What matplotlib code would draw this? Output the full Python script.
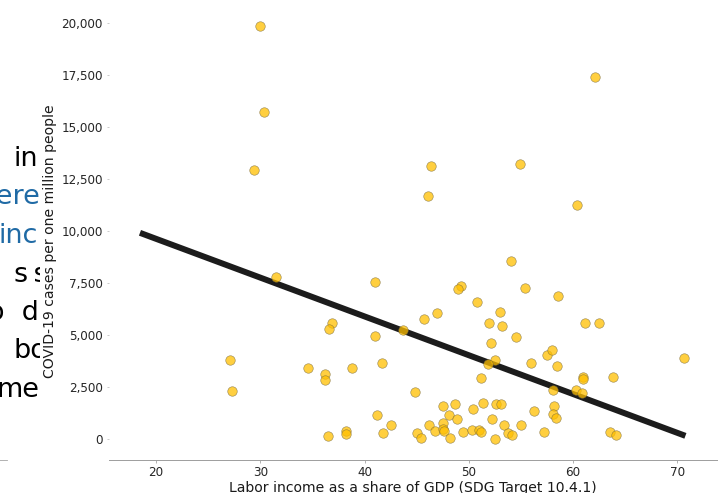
import matplotlib
matplotlib.use("Agg")
import matplotlib.pyplot as plt
from matplotlib.ticker import FuncFormatter
from matplotlib.patches import Rectangle

# ---------------- data ----------------
labor_share = [
    30.0, 30.32, 29.42, 46.33, 46.13, 62.07, 54.92, 60.35,
    31.53, 40.99, 49.23, 49.01, 50.77, 46.93, 45.69, 36.84, 36.61, 43.67,
    51.94, 40.99, 52.11, 27.06, 34.57, 38.78, 41.72, 36.23, 36.23, 52.49,
    51.88, 51.18, 27.31, 44.85, 47.57, 48.63, 41.21, 48.11, 50.38, 51.40,
    52.65, 42.55, 47.57, 48.88, 46.20, 52.27, 38.18, 38.18, 36.48, 41.76,
    45.08, 45.46, 46.74, 47.54, 47.60, 48.21, 49.46, 50.35, 50.99, 51.21,
    52.49,
    54.02, 55.40, 58.56, 53.00, 53.19, 54.53, 61.18, 62.46, 55.97, 57.47,
    58.02, 58.46, 70.63, 60.99, 60.99, 63.87, 58.05, 60.25, 60.89, 53.06,
    56.29, 58.18, 58.05, 58.40, 53.42, 54.98, 53.77, 54.18, 57.21, 63.58,
    64.09,
]
cases_per_million = [
    19860, 15700, 12940, 13130, 11690, 17390, 13230, 11270,
    7770, 7560, 7370, 7210, 6610, 6080, 5780, 5590, 5270, 5250,
    5590, 4960, 4610, 3800, 3400, 3400, 3650, 3110, 2820, 3780,
    3590, 2960, 2320, 2290, 1600, 1670, 1170, 1140, 1440, 1730,
    1700, 700, 800, 980, 700, 980, 380, 270, 130, 290,
    290, 60, 380, 470, 390, 60, 340, 420, 430, 350,
    20,
    8570, 7270, 6900, 6120, 5460, 4890, 5570, 5570, 3650, 4040,
    4280, 3520, 3920, 2990, 2910, 3010, 2370, 2340, 2210, 1670,
    1360, 1570, 1200, 1010, 670, 700, 290, 180, 340, 340,
    190,
]
# fitted trend line (end points)
trend_x = [18.47, 70.77]
trend_y = [9912, 160]

x_ticks = [20, 30, 40, 50, 60, 70]
y_ticks = [0, 2500, 5000, 7500, 10000, 12500, 15000, 17500, 20000]

x_label = "Labor income as a share of GDP (SDG Target 10.4.1)"
y_label = "COVID-19 cases per one million people"

# clipped side-panel text fragments: (text, colour)
side_lines = [
    ("ini", "black"),
    ("there", "#1f6aa5"),
    ("inc", "#1f6aa5"),
    ("s\u2009s", "black"),
    ("o  d", "black"),
    ("bo", "black"),
    ("me", "black"),
]

# ---------------- figure ----------------
W, H = 726, 493
DPI = 72
fig = plt.figure(figsize=(W / DPI, H / DPI), dpi=DPI)
fig.patch.set_facecolor("white")

ax = fig.add_axes([109 / W, 1 - 460 / H, (717 - 109) / W, (460 - 2) / H])
ax.set_zorder(5)
ax.plot(trend_x, trend_y, color="#1c1c1c", lw=6, solid_capstyle="butt", zorder=2)
ax.scatter(labor_share, cases_per_million, s=90, color="#FFBF00", alpha=0.75,
           edgecolor="#7a6a3a", linewidth=0.6, zorder=3)

ax.set_xlim(15.5, 73.8)
ax.set_ylim(-1000, 21000)
ax.set_xticks(x_ticks)
ax.set_yticks(y_ticks)
ax.yaxis.set_major_formatter(FuncFormatter(lambda v, p: f"{v:,.0f}"))

for s in ["top", "right", "left"]:
    ax.spines[s].set_visible(False)
ax.spines["bottom"].set_color("#a0a0a0")
ax.spines["bottom"].set_linewidth(1.0)

ax.tick_params(axis="x", length=3, width=0.8, color="#a0a0a0", pad=3,
               labelsize=12, labelcolor="#262626")
ax.tick_params(axis="y", length=2, width=0.8, color="#c0c0c0", pad=4,
               labelsize=12, labelcolor="#262626")
ax.set_xlabel(x_label, fontsize=14, color="#1a1a1a", labelpad=2)
ax.set_ylabel(y_label, fontsize=14, color="#1a1a1a", labelpad=4)
ax.yaxis.label.set_y(0.478)

# left neighbouring panel (mostly cut off)
ax_left = fig.add_axes([-0.6, 1 - 460 / H, 0.6 + 7 / W, (460 - 2) / H])
ax_left.set_zorder(0)
ax_left.set_xticks([])
ax_left.set_yticks([])
for s in ["top", "right", "left"]:
    ax_left.spines[s].set_visible(False)
ax_left.spines["bottom"].set_color("#a0a0a0")
ax_left.patch.set_alpha(0)

x_origins = [13.5, -31.9, -1.5, 14.5, -11.9, 13.5, -3.8]
baselines = [166, 204.5, 243, 281.5, 320, 358.5, 397]
for (txt, col), xo, yb in zip(side_lines, x_origins, baselines):
    fig.text(xo / W, 1 - yb / H, txt, fontsize=27, color=col,
             ha="left", va="baseline", zorder=3)

# white mask that cuts the side text off at the panel edge
fig.patches.append(Rectangle((40 / W, 0), (109 - 40) / W, 1,
                             transform=fig.transFigure, facecolor="white",
                             edgecolor="none", zorder=4))

fig.savefig("out.png", dpi=DPI)
